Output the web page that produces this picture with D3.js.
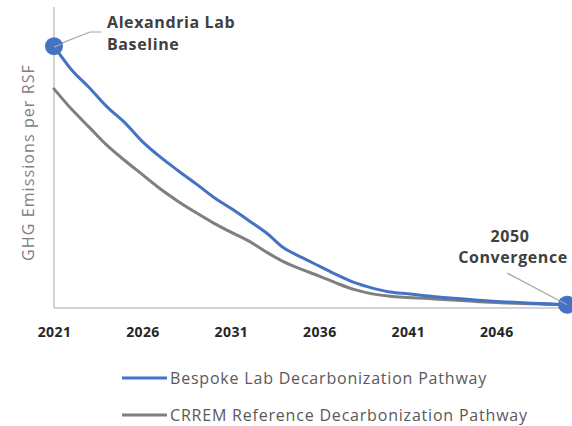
<!DOCTYPE html>
<html>
<head>
<meta charset="utf-8">
<script src="https://cdn.jsdelivr.net/npm/d3@7"></script>
<style>
  html, body { margin: 0; padding: 0; background: #fff; }
  svg { display: block; font-family: "Open Sans", Lato, sans-serif; }
</style>
</head>
<body>
<svg id="chart" width="572" height="426"></svg>
<script>
// Years on the category axis
const years = d3.range(2021, 2051);
// Labelled ticks (every fifth year)
const tickYears = [2021, 2026, 2031, 2036, 2041, 2046];

// Emissions intensity (relative units, GHG per RSF)
const bespoke = [87.0, 79.1, 73.2, 66.8, 61.6, 55.3, 50.2, 45.7, 41.4, 36.9,
                 33.1, 29.1, 25.0, 19.9, 16.8, 13.9, 11.0, 8.4, 6.6, 5.3,
                 4.7, 4.1, 3.5, 3.1, 2.6, 2.2, 1.9, 1.6, 1.4, 1.1];
const crrem   = [72.8, 66.0, 60.0, 54.0, 49.0, 44.3, 39.6, 35.5, 31.8, 28.3,
                 25.2, 22.3, 18.6, 15.3, 12.8, 10.6, 8.2, 6.1, 4.7, 3.9,
                 3.5, 3.2, 2.8, 2.5, 2.1, 1.8, 1.6, 1.4, 1.2, 1.1];

const seriesNames = ["Bespoke Lab Decarbonization Pathway", "CRREM Reference Decarbonization Pathway"];
const seriesColors = ["#4472C4", "#7F7F7F"];
const yTitle = "GHG Emissions per RSF";

const svg = d3.select("#chart");

const x = d3.scalePoint().domain(years).range([54, 567]);
const y = d3.scaleLinear().domain([0, 100]).range([308, 7]);

// Axis lines
const axisColor = "#C6C6C6";
svg.append("line").attr("x1", x(2021)).attr("x2", x(2021)).attr("y1", y(100)).attr("y2", y(0))
  .attr("stroke", axisColor).attr("stroke-width", 1.5);
svg.append("line").attr("x1", x(2021)).attr("x2", 572).attr("y1", y(0)).attr("y2", y(0))
  .attr("stroke", axisColor).attr("stroke-width", 1.5);

// Year labels
const xAxis = d3.axisBottom(x).tickValues(tickYears).tickSize(0).tickPadding(0);
const gx = svg.append("g").attr("transform", `translate(0,${y(0) + 28.5})`).call(xAxis);
gx.select(".domain").remove();
gx.selectAll("text")
  .attr("dy", 0)
  .attr("font-family", "'Open Sans', sans-serif")
  .attr("font-size", 14)
  .attr("font-weight", 700)
  .attr("letter-spacing", 0.4)
  .attr("fill", "#262626");

// Y axis title
svg.append("text")
  .attr("transform", `translate(34,162.5) rotate(-90)`)
  .attr("text-anchor", "middle")
  .attr("font-size", 16)
  .attr("letter-spacing", 1.1)
  .attr("fill", "#7F7F7F")
  .text(yTitle);

// Pathway lines
const line = d3.line()
  .x((d, i) => x(years[i]))
  .y(d => y(d))
  .curve(d3.curveCatmullRom.alpha(0.5));

[crrem, bespoke].forEach((vals, k) => {
  const idx = k === 0 ? 1 : 0;
  svg.append("path")
    .datum(vals)
    .attr("fill", "none")
    .attr("stroke", seriesColors[idx])
    .attr("stroke-width", 3)
    .attr("stroke-linejoin", "round")
    .attr("stroke-linecap", "round")
    .attr("d", line);
});

// Callout leaders
const leader = "#A6A6A6";
svg.append("polyline")
  .attr("points", `${x(2021)},${y(bespoke[0])} 90,32 101,32`)
  .attr("fill", "none").attr("stroke", leader).attr("stroke-width", 1.2);
svg.append("line")
  .attr("x1", 507).attr("y1", 273).attr("x2", x(2050)).attr("y2", y(bespoke[29]))
  .attr("stroke", leader).attr("stroke-width", 1.2);

// End-point markers
svg.append("circle").attr("cx", x(2021)).attr("cy", y(bespoke[0])).attr("r", 9).attr("fill", seriesColors[0]);
svg.append("circle").attr("cx", x(2050)).attr("cy", y(bespoke[29])).attr("r", 9).attr("fill", seriesColors[0]);
// leader tips drawn over the markers
svg.append("line").attr("x1", x(2021)).attr("y1", y(bespoke[0]) + 1).attr("x2", x(2021) + 7).attr("y2", y(bespoke[0]) - 2)
  .attr("stroke", leader).attr("stroke-width", 1.2);
svg.append("line").attr("x1", x(2050) - 7).attr("y1", y(bespoke[29]) - 4).attr("x2", x(2050)).attr("y2", y(bespoke[29]))
  .attr("stroke", leader).attr("stroke-width", 1.2);

// Callout text
const callout = svg.append("g").attr("font-size", 16).attr("font-weight", 700)
  .attr("letter-spacing", 0.6).attr("fill", "#404040");
callout.append("text").attr("x", 107).attr("y", 28).text("Alexandria Lab");
callout.append("text").attr("x", 107).attr("y", 50).text("Baseline");
callout.append("text").attr("x", 510).attr("y", 242).attr("text-anchor", "middle").text("2050");
callout.append("text").attr("x", 513).attr("y", 263).attr("text-anchor", "middle").text("Convergence");

// Legend
const legend = svg.append("g");
seriesNames.forEach((name, i) => {
  const ly = 378 + i * 37;
  legend.append("line").attr("x1", 122).attr("x2", 167).attr("y1", ly).attr("y2", ly)
    .attr("stroke", seriesColors[i]).attr("stroke-width", 3);
  legend.append("text").attr("x", 170).attr("y", ly + 6)
    .attr("font-size", 16).attr("letter-spacing", 0.8).attr("fill", "#595959").text(name);
});
</script>
</body>
</html>
